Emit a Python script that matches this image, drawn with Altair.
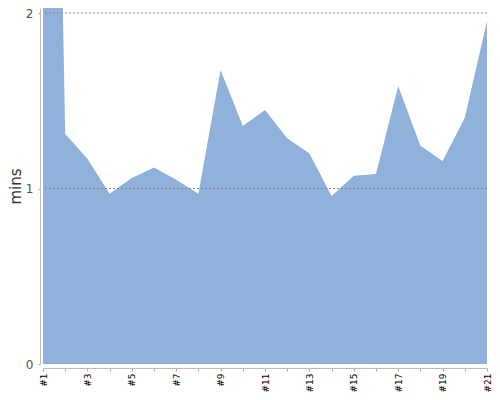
import altair as alt
import pandas as pd

runs = ["#1", "#2", "#3", "#4", "#5", "#6", "#7", "#8", "#9", "#10", "#11",
        "#12", "#13", "#14", "#15", "#16", "#17", "#18", "#19", "#20", "#21"]
mins = [8.0, 1.31, 1.17, 0.97, 1.06, 1.12, 1.05, 0.97, 1.675, 1.356, 1.447,
        1.286, 1.20, 0.957, 1.073, 1.083, 1.584, 1.244, 1.157, 1.403, 1.954]
y_ticks = [0, 1, 2]
grid_lines = [1, 2]

df = pd.DataFrame({"run": runs, "mins": mins})
grid_df = pd.DataFrame({"mins": grid_lines})

FONT = "DejaVu Sans"

yscale = alt.Scale(domain=[0, 2.0285], nice=False, zero=True)

area = alt.Chart(df).mark_area(color="#90b2da", opacity=1, clip=True).encode(
    x=alt.X("run:O", sort=runs,
            scale=alt.Scale(type="point", padding=0),
            axis=alt.Axis(title=None, labelAngle=270, labelFontSize=9,
                          labelColor="#000", labelFont=FONT,
                          labelExpr="toNumber(slice(datum.value, 1)) % 2 == 1 ? datum.label : ''",
                          tickSize=3, tickColor="#aaa", domainColor="#bbb",
                          offset=4, labelPadding=2, grid=False,
                          labelOverlap=False)),
    y=alt.Y("mins:Q", scale=yscale,
            axis=alt.Axis(title="mins", values=y_ticks, tickCount=3,
                          labelExpr="'' + round(datum.value)",
                          titleFontSize=15, titleFontWeight="normal",
                          titleColor="#333", titleFont=FONT, titlePadding=2,
                          labelFontSize=12, labelColor="#555", labelFont=FONT,
                          labelPadding=5, tickSize=2, tickColor="#aaa",
                          domainColor="#bbb", offset=3, grid=False,
                          labelOverlap=False)),
)

grid = alt.Chart(grid_df).mark_rule(color="#888", strokeDash=[2, 2], strokeWidth=1).encode(
    y=alt.Y("mins:Q", scale=yscale)
)

chart = alt.layer(area, grid).properties(
    width=444, height=356,
    autosize=alt.AutoSizeParams(type="none"),
    padding={"left": 35, "top": 0, "right": 5, "bottom": 28},
).configure_view(stroke=None)

chart.save("out.html", embed_options={"renderer": "svg", "actions": False})
